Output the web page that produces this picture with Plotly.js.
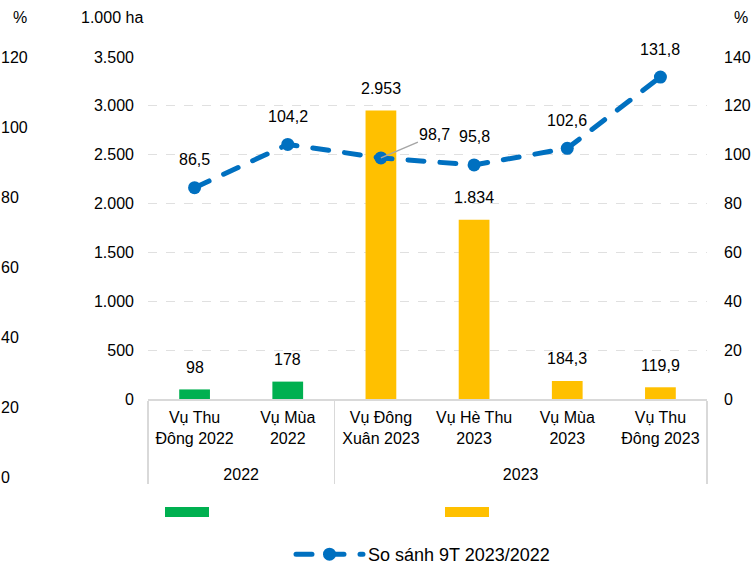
<!DOCTYPE html>
<html>
<head>
<meta charset="utf-8">
<script src="https://cdn.plot.ly/plotly-3.0.1.min.js"></script>
<style>
  html, body { margin: 0; padding: 0; background: #fff; }
  #chart { width: 753px; height: 573px; }
  .scatterlayer .js-line, .legend2 .js-line { stroke-linecap: round; }
</style>
</head>
<body>
<div id="chart"></div>
<script>
// ---- data ----
const groups = ['2022', '2022', '2023', '2023', '2023', '2023'];
const seasons = ['Vụ Thu<br>Đông 2022', 'Vụ Mùa<br>2022', 'Vụ Đông<br>Xuân 2023', 'Vụ Hè Thu<br>2023', 'Vụ Mùa<br>2023', 'Vụ Thu<br>Đông 2023'];
const areaValues = [98, 178, 2953, 1834, 184.3, 119.9];
const areaLabels = ['98', '178', '2.953', '1.834', '184,3', '119,9'];
const compareValues = [86.5, 104.2, 98.7, 95.8, 102.6, 131.8];
const compareLabels = ['86,5', '104,2', '98,7', '95,8', '102,6', '131,8'];
const compareName = 'So sánh 9T 2023/2022';

// ---- styles ----
const GREEN = '#00B050', YELLOW = '#FFC000', BLUE = '#0070C0';
const FONT = 'Liberation Sans, Arial, sans-serif';
const W = 753, H = 573;
const py = (pix) => (H - pix) / H;
const px = (pix) => pix / W;

// extra blank line under the season labels leaves room above the year row
const xcat = [groups, seasons.map(s => s + '<br>\u00a0')];
const emptyY = groups.map(() => null);
const barColors = groups.map(g => g === '2022' ? GREEN : YELLOW);

const traces = [
  {
    type: 'bar', x: xcat, y: areaValues, width: 0.33,
    marker: { color: barColors }, showlegend: false, hoverinfo: 'skip',
    xaxis: 'x', yaxis: 'y'
  },
  {
    type: 'scatter', mode: 'lines+markers', x: xcat, y: compareValues,
    name: compareName, legend: 'legend2',
    line: { color: BLUE, width: 5, dash: '16px,16px' },
    marker: { color: BLUE, size: 13 },
    xaxis: 'x', yaxis: 'y2', cliponaxis: false
  },
  {
    type: 'scatter', mode: 'lines', x: xcat, y: emptyY, name: ' ',
    line: { color: GREEN, width: 12 }, legend: 'legend', xaxis: 'x', yaxis: 'y', hoverinfo: 'skip'
  },
  {
    type: 'scatter', mode: 'lines', x: xcat, y: emptyY, name: ' ',
    line: { color: YELLOW, width: 12 }, legend: 'legend', xaxis: 'x', yaxis: 'y', hoverinfo: 'skip'
  },
  // empty trace so the outer percentage axis is drawn
  { type: 'scatter', mode: 'markers', x: xcat, y: emptyY, xaxis: 'x', yaxis: 'y3', showlegend: false, hoverinfo: 'skip' }
];

const annotations = [];
areaValues.forEach((v, i) => {
  annotations.push({
    x: i, y: v, xref: 'x', yref: 'y', text: areaLabels[i], showarrow: false,
    yshift: 22, font: { size: 16, color: '#000' }
  });
});
compareValues.forEach((v, i) => {
  if (i === 2) {
    annotations.push({
      x: i, y: v, xref: 'x', yref: 'y2', text: compareLabels[i], showarrow: true,
      arrowhead: 0, arrowwidth: 1.5, arrowcolor: '#A6A6A6', ax: 54, ay: -23, standoff: 0,
      font: { size: 16, color: '#000' }
    });
  } else {
    annotations.push({
      x: i, y: v, xref: 'x', yref: 'y2', text: compareLabels[i], showarrow: false,
      yshift: 28, font: { size: 16, color: '#000' }
    });
  }
});
const unitLabel = (x, text) => ({
  xref: 'paper', yref: 'paper', x: px(x), y: py(17), xanchor: 'center', yanchor: 'middle',
  text: text, showarrow: false, font: { size: 16 }
});
annotations.push(unitLabel(20, '%'));
annotations.push(unitLabel(112, '1.000 ha'));
annotations.push(unitLabel(741, '%'));

const layout = {
  width: W, height: H,
  margin: { l: 0, r: 0, t: 0, b: 0 },
  paper_bgcolor: '#fff', plot_bgcolor: 'rgba(0,0,0,0)',
  separators: ',.',
  font: { family: FONT, size: 16, color: '#000' },
  xaxis: {
    type: 'multicategory', domain: [px(148), px(707)],
    showline: true, linecolor: '#D9D9D9', linewidth: 1.5,
    showdividers: true, dividercolor: '#D9D9D9', dividerwidth: 1.5,
    ticks: '', tickfont: { size: 16 }, automargin: false, showgrid: false,
    ticklabelstandoff: 3
  },
  yaxis: {
    domain: [py(399), py(57)], range: [0, 3500], dtick: 500, tickformat: ',d',
    showgrid: true, gridcolor: '#E0E0E0', griddash: 'dash', gridwidth: 1,
    zeroline: false, ticks: '', ticklabelstandoff: 13, automargin: false
  },
  yaxis2: {
    overlaying: 'y', side: 'right', range: [0, 140], dtick: 20,
    showgrid: false, zeroline: false, ticks: '', ticklabelstandoff: 16, automargin: false
  },
  yaxis3: {
    domain: [py(477), py(57)], anchor: 'free', position: 0, side: 'right',
    range: [0, 120], dtick: 20, showgrid: false, zeroline: false, showline: false,
    ticks: '', automargin: false
  },
  legend: {
    orientation: 'h', x: px(160), y: py(512), xanchor: 'left', yanchor: 'middle',
    entrywidth: 221, entrywidthmode: 'pixels', itemwidth: 44, bgcolor: 'rgba(0,0,0,0)'
  },
  legend2: {
    orientation: 'h', x: px(291), y: 0, xanchor: 'left', yanchor: 'bottom',
    itemwidth: 67, bgcolor: 'rgba(0,0,0,0)', font: { size: 18 }
  },
  showlegend: true,
  annotations: annotations
};

Plotly.newPlot('chart', traces, layout, { staticPlot: true, displayModeBar: false });
</script>
</body>
</html>
